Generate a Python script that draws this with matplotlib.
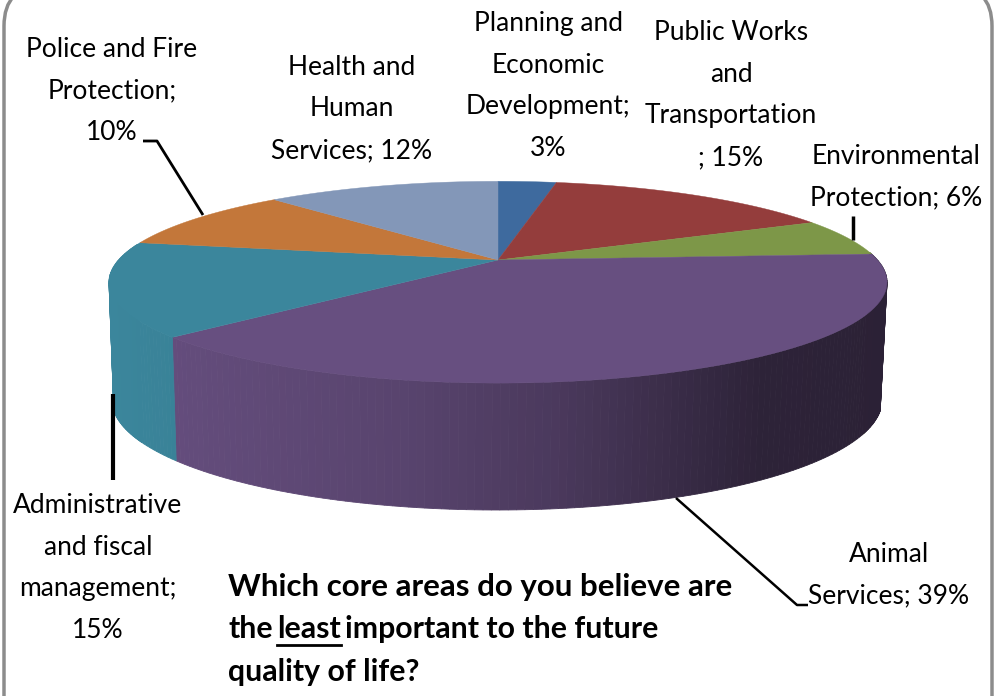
import matplotlib
matplotlib.use("Agg")
import matplotlib.pyplot as plt
import numpy as np
from matplotlib.patches import FancyBboxPatch

plt.rcParams["font.family"] = ["Lato", "DejaVu Sans"]

categories = [
    "Planning and\nEconomic\nDevelopment;\n3%",
    "Public Works\nand\nTransportation\n; 15%",
    "Environmental\nProtection; 6%",
    "Animal\nServices; 39%",
    "Administrative\nand fiscal\nmanagement;\n15%",
    "Police and Fire\nProtection;\n10%",
    "Health and\nHuman\nServices; 12%",
]
values = [3, 15, 6, 39, 15, 10, 12]
colors = ["#3E6A9E", "#943D3C", "#7D9748", "#674F80", "#3B869C", "#C3773A", "#8397B8"]
label_pos = [(548, 86), (731, 95), (896, 177), (889, 575), (98, 568), (112, 91), (352, 109)]

CX, CY = 498, 260
RX, RY, K = 379.5, 96, 0.22


def top_xy(theta):
    # flat disc seen in perspective, theta clockwise from the back
    u, v = np.sin(theta), np.cos(theta)
    w = 1 + K * v
    return CX + RX * u / w, CY - RY * v / w


def bottom_xy(theta):
    # lower rim of the wall, follows the top rim in x
    x, _ = top_xy(theta)
    dx = (x - CX) * 0.985
    return CX - 1 + dx, 400 + 110 * np.sqrt(np.clip(1 - (dx / 385) ** 2, 0, 1))


def shade(color, x):
    # front wall gets darker towards the right edge
    f = np.interp(x, [110, 175, 400, 560, 760, 890], [1.0, 0.97, 0.86, 0.72, 0.44, 0.42])
    return tuple(c * f for c in matplotlib.colors.to_rgb(color))


fig = plt.figure(figsize=(9.97, 6.96), dpi=100)
ax = fig.add_axes([0, 0, 1, 1])
ax.set_xlim(0, 997)
ax.set_ylim(696, 0)
ax.axis("off")

ax.add_patch(FancyBboxPatch((4, -14), 988, 790, boxstyle="round,pad=0,rounding_size=40",
                            fc="white", ec="#8c8c8c", lw=2.5))

edges = np.radians(np.cumsum([0] + values) * 3.6)

# side walls first, the tops go over them
for i, color in enumerate(colors):
    a0, a1 = edges[i], edges[i + 1]
    ts = np.linspace(a0, a1, max(int(np.degrees(a1 - a0)), 2) + 1)
    for t0, t1 in zip(ts[:-1], ts[1:]):
        mid = np.degrees((t0 + t1) / 2)
        if mid < 85 or mid > 280:
            continue
        x0, y0 = top_xy(t0)
        x1, y1 = top_xy(t1)
        x2, y2 = bottom_xy(t1)
        x3, y3 = bottom_xy(t0)
        c = shade(color, (x0 + x1) / 2)
        ax.fill([x0, x1, x2, x3], [y0, y1, y2, y3], color=c, lw=0.6, zorder=2)

# top faces
for i, color in enumerate(colors):
    ts = np.linspace(edges[i], edges[i + 1], 80)
    x, y = top_xy(ts)
    ax.fill(np.r_[CX, x], np.r_[CY, y], color=color, lw=0.3, zorder=3)

# leader lines
leaders = [
    ([143, 157, 203], [141, 141, 215], 2),
    ([113, 113], [394, 480], 3),
    ([853, 853], [216, 240], 2.5),
    ([676, 797, 808], [498, 605, 605], 1.8),
]
for xs, ys, w in leaders:
    ax.plot(xs, ys, color="black", lw=w, zorder=4, solid_capstyle="butt")

for text, (x, y) in zip(categories, label_pos):
    ax.text(x, y, text, ha="center", va="center", fontsize=19, color="black",
            linespacing=1.83, zorder=5)

# question, with the underlined word
TITLE_SIZE = 22.5
LINE_SIZE = 21.8
ax.text(228, 587, "Which core areas do you believe are", fontsize=TITLE_SIZE, weight="bold",
        va="center", zorder=5)
ax.text(228, 672, "quality of life?", fontsize=LINE_SIZE, weight="bold", va="center", zorder=5)
ax.text(228, 629, "the", fontsize=LINE_SIZE, weight="bold", va="center", zorder=5)
r = fig.canvas.get_renderer()
x1 = 277
t2 = ax.text(x1, 629, "least", fontsize=LINE_SIZE, weight="bold", va="center", zorder=5)
x2 = x1 + t2.get_window_extent(r).width
ax.plot([x1, x2], [645, 645], color="black", lw=2, zorder=5)
ax.text(x2 + 4, 629, "important to the future", fontsize=LINE_SIZE, weight="bold",
        va="center", zorder=5)

fig.savefig("out.png", dpi=100)
